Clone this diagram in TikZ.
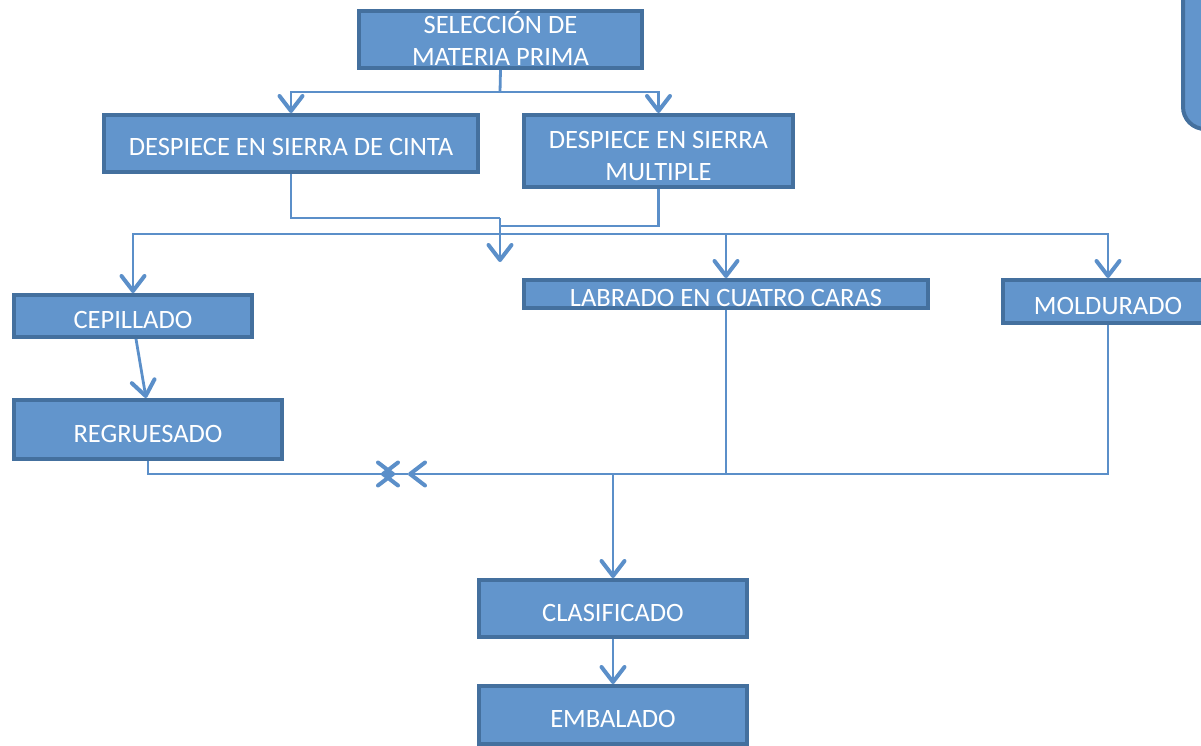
\documentclass[tikz,border=0pt]{standalone}
\usepackage{fontspec}
\setmainfont{Carlito}
\usetikzlibrary{arrows.meta}

\definecolor{boxfill}{RGB}{98,149,204}
\definecolor{boxline}{RGB}{68,112,158}
\definecolor{linecol}{RGB}{91,143,201}

\begin{document}
\begin{tikzpicture}[x=1pt, y=-1pt,
  caja/.style={draw=boxline, fill=boxfill, line width=4pt, inner sep=0pt,
    text=white, align=center, font=\fontsize{26.5}{32}\selectfont,
    text height=25pt, text depth=0pt},
  conn/.style={draw=linecol, line width=2.8pt},
  flecha/.style={-{Straight Barb[length=15pt,width=23pt,line width=4pt,round]}}]
  \useasboundingbox (0,0) rectangle (1201,746);

  % piece of a box at the top right
  \draw[draw=boxline, fill=boxfill, line width=4pt, rounded corners=22pt] (1183,-40) rectangle (1260,129);

  \node[caja, minimum width=283, minimum height=57, text height=53pt] (sel) at (500.5,39.5) {SELECCIÓN DE\\MATERIA PRIMA};
  \node[caja, minimum width=374, minimum height=57] (cinta) at (291,143.5) {DESPIECE EN SIERRA DE CINTA};
  \node[caja, minimum width=269, minimum height=72, text height=59pt] (multi) at (658.5,151) {DESPIECE EN SIERRA\\MULTIPLE};
  \node[caja, minimum width=238, minimum height=42] (cepi) at (133,316) {CEPILLADO};
  \node[caja, minimum width=404, minimum height=28] (labra) at (726,294) {LABRADO EN CUATRO CARAS};
  \node[caja, minimum width=210, minimum height=43] (moldu) at (1108,301.5) {MOLDURADO};
  \node[caja, minimum width=268, minimum height=59] (regru) at (148,429.5) {REGRUESADO};
  \node[caja, minimum width=268, minimum height=57] (clasi) at (613,608.5) {CLASIFICADO};
  \node[caja, minimum width=268, minimum height=58] (emba) at (613,715) {EMBALADO};

  \coordinate (s1) at (500,92);
  \coordinate (d1) at (500,218);
  \coordinate (d2) at (500,262);
  \coordinate (h) at (500,234);
  \coordinate (jx) at (395,474);
  \coordinate (jl) at (408,474);
  \coordinate (jr) at (381,474);
  \coordinate (jc) at (613,474);

  \draw[conn] (sel.south) -- (s1);
  \draw[conn,flecha] (s1) -| (cinta.north);
  \draw[conn,flecha] (s1) -| (multi.north);

  \draw[conn] (cinta.south) |- (d1);
  \draw[conn] (multi.south) |- (500,226);
  \draw[conn,flecha] (d1) -- (d2);

  \draw[conn,flecha] (h) -| (cepi.north);
  \draw[conn,flecha] (h) -| (labra.north);
  \draw[conn,flecha] (h) -| (moldu.north);

  \draw[conn,flecha] ([xshift=3pt]cepi.south) -- ([xshift=-2pt]regru.north);

  \draw[conn,flecha] (regru.south) |- (jx);
  \draw[conn,flecha] (moldu.south) |- (jl);
  \draw[conn,flecha] (jl) -- (jr);
  \draw[conn] (labra.south) |- (jc);
  \draw[conn,flecha] (jc) -- (clasi.north);
  \draw[conn,flecha] (clasi.south) -- (emba.north);
\end{tikzpicture}
\end{document}
